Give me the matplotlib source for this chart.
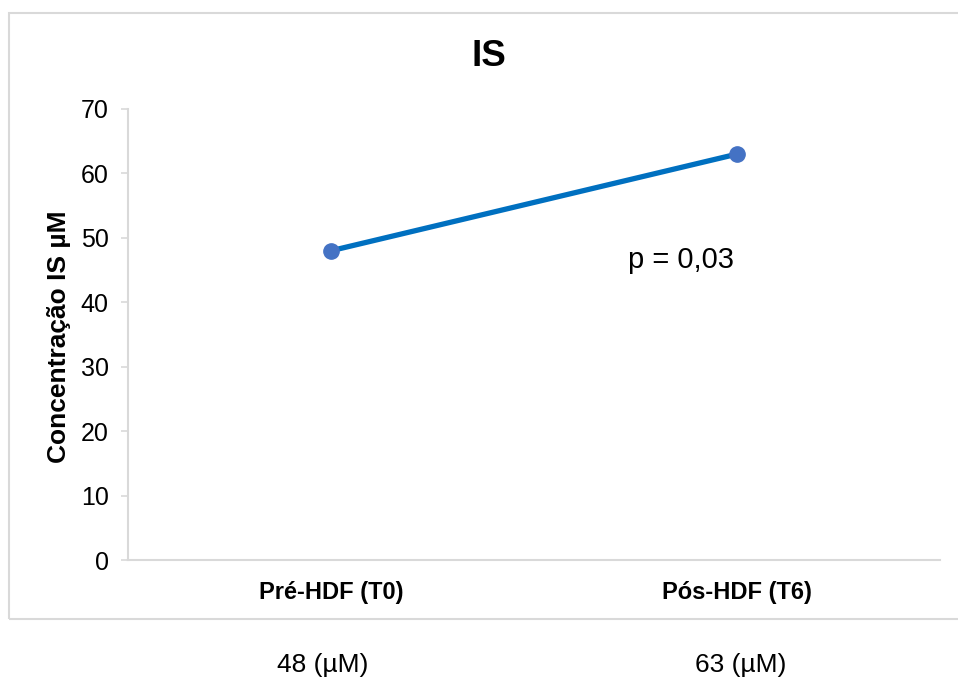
import matplotlib.pyplot as plt
from matplotlib.patches import Rectangle

plt.rcParams['font.family'] = ['Liberation Sans', 'DejaVu Sans']

# dados de IS (µM) antes e depois da HDF
categorias = ['Pré-HDF (T0)', 'Pós-HDF (T6)']
valores = [48, 63]
y_ticks = [0, 10, 20, 30, 40, 50, 60, 70]
p_valor = 'p = 0,03'

W, H = 958, 680
fig = plt.figure(figsize=(W / 100, H / 100), dpi=100)

# moldura do gráfico (estilo Excel)
fig.patches.append(Rectangle((9 / W, 1 - 619 / H), 1.0, (619 - 13) / H,
                             transform=fig.transFigure, fill=False,
                             edgecolor='#D9D9D9', lw=1.5))

ax = fig.add_axes([128 / W, 1 - 560 / H, (940 - 128) / W, (560 - 109) / H])

x = range(len(categorias))
ax.plot(x, valores, color='#0070C0', lw=3.8, solid_capstyle='round', zorder=2)
ax.plot(x, valores, 'o', color='#4472C4', markersize=11, zorder=3)

ax.set_xlim(-0.5, len(categorias) - 0.5)
ax.set_ylim(0, 70)
ax.set_yticks(y_ticks)
ax.tick_params(axis='y', labelsize=18, length=5, width=1.2, color='#D9D9D9', pad=9)
ax.set_xticks(list(x))
ax.set_xticklabels(categorias, fontsize=17, fontweight='bold')
ax.tick_params(axis='x', length=0, pad=15)

for s in ['top', 'right']:
    ax.spines[s].set_visible(False)
for s in ['left', 'bottom']:
    ax.spines[s].set_color('#D9D9D9')
    ax.spines[s].set_linewidth(1.5)

ax.text(0.862, 46.6, p_valor, fontsize=21, ha='center', va='center')

fig.text(489 / W, 1 - 56 / H, 'IS', fontsize=26.5, fontweight='bold',
         ha='center', va='center')
fig.text(59 / W, 1 - 337 / H, 'Concentração IS µM', fontsize=19,
         fontweight='bold', rotation=90, ha='center', va='center')

# valores médios abaixo do gráfico
for xc, v in zip([323, 741], valores):
    fig.text(xc / W, 1 - 665 / H, f'{v} (µM)', fontsize=19,
             ha='center', va='center')

fig.savefig('out.png', dpi=100)
